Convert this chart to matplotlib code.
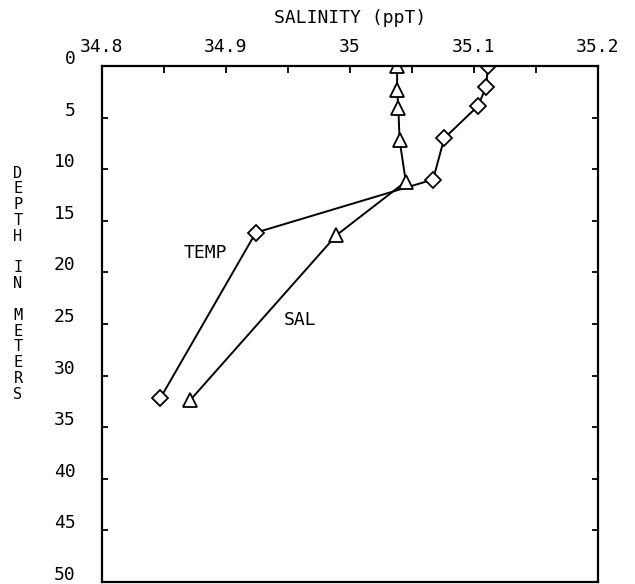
"""Salinity / temperature depth profile, redrawn in the old plotter style."""
import matplotlib
matplotlib.use("Agg")
import matplotlib.pyplot as plt
import matplotlib.transforms as mtransforms

# --- data -------------------------------------------------------------- #
sal_x = [35.038, 35.038, 35.039, 35.040, 35.045, 34.989, 34.871]
sal_depth = [0.0, 2.3, 4.1, 7.2, 11.2, 16.4, 32.4]
temp_x = [35.111, 35.110, 35.103, 35.076, 35.067, 34.924, 34.847]
temp_depth = [0.0, 2.0, 3.9, 7.0, 11.0, 16.15, 32.2]

x_major = [34.8, 34.9, 35.0, 35.1, 35.2]
x_labels = ["34.8", "34.9", "35", "35.1", "35.2"]
x_minor = [34.85, 34.95, 35.05, 35.15]
y_ticks = list(range(0, 55, 5))

FONT = "DejaVu Sans Mono"
FS = 13
W, H = 635, 584

fig = plt.figure(figsize=(W / 100, H / 100), dpi=100)
ax = fig.add_axes([102 / W, 1 - 582 / H, 496 / W, 516 / H])

ax.plot(temp_x, temp_depth, color="black", lw=1.4, marker="D", ms=8.5,
        mfc="white", mec="black", mew=1.3)
ax.plot(sal_x, sal_depth, color="black", lw=1.4, marker="^", ms=10,
        mfc="white", mec="black", mew=1.3)

ax.text(34.883, 18.1, "TEMP", family=FONT, fontsize=FS, ha="center", va="center")
ax.text(34.960, 24.6, "SAL", family=FONT, fontsize=FS, ha="center", va="center")

ax.set_xlim(34.8, 35.2)
ax.set_ylim(50, 0)
ax.set_xticks(x_major)
ax.set_xticklabels(x_labels, family=FONT, fontsize=FS)
ax.set_xticks(x_minor, minor=True)
ax.set_yticks(y_ticks)
ax.set_yticklabels([str(v) for v in y_ticks], family=FONT, fontsize=FS)

ax.tick_params(axis="x", which="both", top=True, bottom=False, labeltop=True,
               labelbottom=False, direction="in", length=5, width=1.3, pad=7)
ax.tick_params(axis="y", left=True, right=True, direction="in", length=4,
               width=1.3, pad=19)
for s in ax.spines.values():
    s.set_linewidth(1.6)

# plotter put the depth numbers a little above their ticks
shift = mtransforms.ScaledTranslation(0, 6.5 / 72, fig.dpi_scale_trans)
for lbl in ax.get_yticklabels():
    lbl.set_transform(lbl.get_transform() + shift)

fig.text(350 / W, 1 - 18 / H, "SALINITY (ppT)", family=FONT, fontsize=FS,
         ha="center", va="center")

# stacked vertical axis title, one letter per line
for i, ch in enumerate("DEPTH IN METERS"):
    if ch != " ":
        fig.text(18 / W, 1 - (173 + i * 15.8) / H, ch, family=FONT,
                 fontsize=11, ha="center", va="center")

fig.savefig("out.png", dpi=100)
